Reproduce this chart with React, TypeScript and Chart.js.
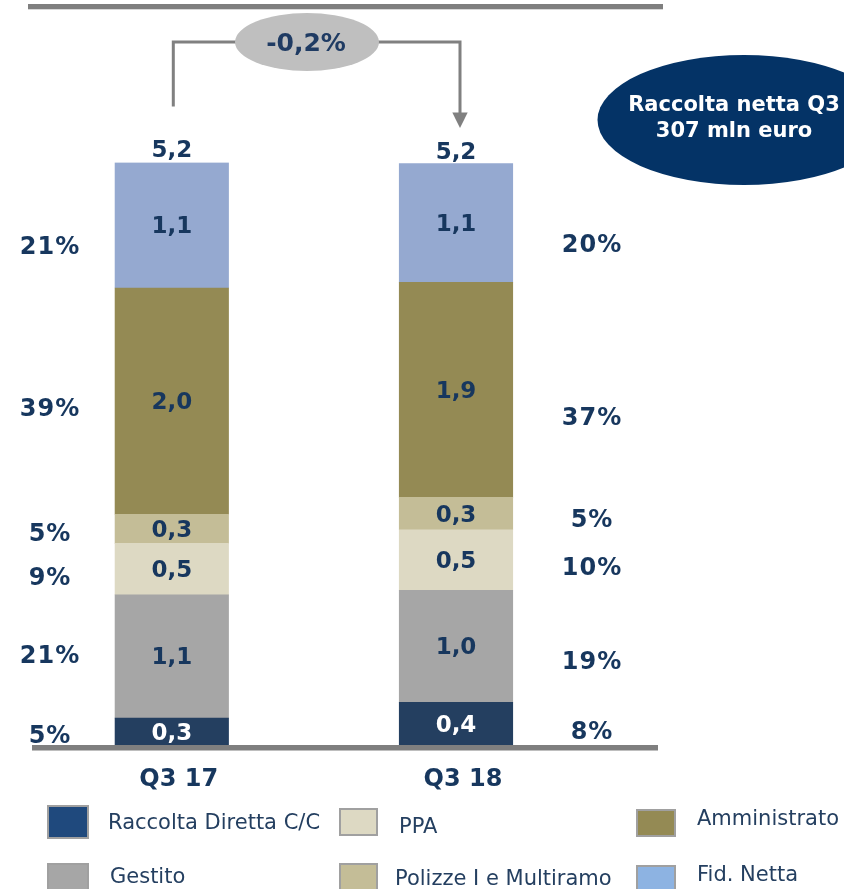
import React, { useEffect, useRef } from "react";
import { Chart, registerables } from "chart.js";

Chart.register(...registerables);

// ---------- data ----------
const categories = ["Q3 17", "Q3 18"];
const seriesNames = [
  "Raccolta Diretta C/C",
  "Gestito",
  "PPA",
  "Polizze I e Multiramo",
  "Amministrato",
  "Fid. Netta",
];
const raccoltaDiretta = [0.24, 0.38];
const gestito = [1.1, 1.0];
const ppa = [0.46, 0.54];
const polizze = [0.26, 0.29];
const amministrato = [2.02, 1.92];
const fidNetta = [1.12, 1.06];

// displayed values (series order as above)
const labelsQ317 = ["0,3", "1,1", "0,5", "0,3", "2,0", "1,1"];
const labelsQ318 = ["0,4", "1,0", "0,5", "0,3", "1,9", "1,1"];
const sharesQ317 = ["5%", "21%", "9%", "5%", "39%", "21%"];
const sharesQ318 = ["8%", "19%", "10%", "5%", "37%", "20%"];
const totals = ["5,2", "5,2"];
const changeLabel = "-0,2%";
const calloutLines = ["Raccolta netta Q3", "307 mln euro"];
const yMax = 5.2;

// ---------- styles ----------
const barColors = ["#243F60", "#A6A6A6", "#DDD9C3", "#C4BD97", "#948A54", "#95A9D0"];
const legendColors = ["#1F497D", "#A6A6A6", "#DDD9C3", "#C4BD97", "#948A54", "#8DB3E2"];
const NAVY = "#17375E";
const FONT = "'DejaVu Sans', Verdana, sans-serif";

const seriesData = [raccoltaDiretta, gestito, ppa, polizze, amministrato, fidNetta];

const overlayPlugin = {
  id: "overlay",
  afterDatasetsDraw(chart: any) {
    const ctx: any = chart.ctx;
    const metas = seriesData.map((_, i) => chart.getDatasetMeta(i));
    const barLabels = [labelsQ317, labelsQ318];
    const shares = [sharesQ317, sharesQ318];
    const leftOff = [5, 0, 10, 5.5, 9, 23];
    const rightOff = [9, 16, 9, 7, 29, 23];
    ctx.save();
    ctx.textAlign = "center";
    ctx.textBaseline = "middle";

    // segment labels + shares
    for (let c = 0; c < categories.length; c++) {
      for (let s = 0; s < seriesData.length; s++) {
        const el = metas[s].data[c];
        const cy = (el.y + el.base) / 2;
        ctx.letterSpacing = "0px";
        ctx.font = `bold 23px ${FONT}`;
        ctx.fillStyle = s === 0 ? "#FFFFFF" : NAVY;
        ctx.fillText(barLabels[c][s], el.x, cy + 2);
        ctx.font = `bold 24px ${FONT}`;
        ctx.letterSpacing = "1px";
        ctx.fillStyle = NAVY;
        if (c === 0) ctx.fillText(shares[c][s], 50, cy + leftOff[s]);
        else ctx.fillText(shares[c][s], 592, cy + rightOff[s]);
      }
      ctx.letterSpacing = "0px";
      const top = metas[seriesData.length - 1].data[c];
      ctx.font = `bold 23px ${FONT}`;
      ctx.fillStyle = NAVY;
      ctx.fillText(totals[c], top.x, top.y - 11);
      ctx.font = `bold 24px ${FONT}`;
      ctx.fillText(categories[c], top.x + 7, 780);
    }

    // baseline + top rule
    ctx.fillStyle = "#7F7F7F";
    ctx.fillRect(32, chart.chartArea.bottom, 626, 5.5);
    ctx.fillRect(28, 4, 635, 5.3);

    // bracket with arrow
    const x1 = metas[0].data[0].x + 1.5;
    const x2 = metas[0].data[1].x + 4;
    ctx.strokeStyle = "#808080";
    ctx.lineWidth = 3;
    ctx.beginPath();
    ctx.moveTo(x1, 106.5);
    ctx.lineTo(x1, 42);
    ctx.lineTo(x2, 42);
    ctx.lineTo(x2, 114);
    ctx.stroke();
    ctx.fillStyle = "#808080";
    ctx.beginPath();
    ctx.moveTo(x2 - 7.7, 112.5);
    ctx.lineTo(x2 + 7.7, 112.5);
    ctx.lineTo(x2, 128);
    ctx.closePath();
    ctx.fill();

    // change bubble
    ctx.fillStyle = "#BFBFBF";
    ctx.beginPath();
    ctx.ellipse(307, 42, 72, 29, 0, 0, Math.PI * 2);
    ctx.fill();
    ctx.fillStyle = "#1F3B63";
    ctx.font = `bold 25px ${FONT}`;
    ctx.fillText(changeLabel, 306, 44);

    // callout
    ctx.fillStyle = "#043366";
    ctx.beginPath();
    ctx.ellipse(744, 120, 146.5, 65, 0, 0, Math.PI * 2);
    ctx.fill();
    ctx.fillStyle = "#FFFFFF";
    ctx.font = `bold 21px ${FONT}`;
    ctx.fillText(calloutLines[0], 734, 106);
    ctx.fillText(calloutLines[1], 734, 132);

    // legend
    const legendPos = [
      { bx: 48, by: 806, bw: 40, bh: 32, tx: 108, ty: 824 },
      { bx: 48, by: 864, bw: 40, bh: 30, tx: 110, ty: 878 },
      { bx: 340, by: 809, bw: 37, bh: 26, tx: 399, ty: 828 },
      { bx: 340, by: 864, bw: 37, bh: 30, tx: 395, ty: 880 },
      { bx: 637, by: 810, bw: 38, bh: 26, tx: 697, ty: 820 },
      { bx: 637, by: 866, bw: 38, bh: 30, tx: 697, ty: 876 },
    ];
    ctx.textAlign = "left";
    ctx.font = `21px ${FONT}`;
    for (let s = 0; s < seriesNames.length; s++) {
      const p = legendPos[s];
      ctx.fillStyle = legendColors[s];
      ctx.fillRect(p.bx, p.by, p.bw, p.bh);
      ctx.strokeStyle = "#A0A0A0";
      ctx.lineWidth = 2;
      ctx.strokeRect(p.bx, p.by, p.bw, p.bh);
      ctx.fillStyle = "#243F60";
      ctx.fillText(seriesNames[s], p.tx, p.ty);
    }
    ctx.restore();
  },
};

export default function App() {
  const ref = useRef<HTMLCanvasElement | null>(null);
  useEffect(() => {
    if (!ref.current) return;
    const chart = new Chart(ref.current, {
      type: "bar",
      data: {
        labels: categories,
        datasets: seriesData.map((d, i) => ({
          label: seriesNames[i],
          data: d,
          backgroundColor: barColors[i],
          borderWidth: 0,
          barThickness: 113.5,
        })),
      },
      options: {
        animation: false,
        responsive: false,
        devicePixelRatio: 1,
        layout: { padding: { left: 29.7, right: 245.9, top: 162.5, bottom: 144 } },
        scales: {
          x: { stacked: true, display: false, offset: true },
          y: { stacked: true, display: false, min: 0, max: yMax },
        },
        plugins: {
          legend: { display: false },
          tooltip: { enabled: false },
        },
      },
      plugins: [overlayPlugin],
    });
    return () => chart.destroy();
  }, []);
  return (
    <div style={{ position: "absolute", left: 0, top: 0, width: 844, height: 889, background: "#fff" }}>
      <canvas ref={ref} width={844} height={889} style={{ width: 844, height: 889, display: "block" }} />
    </div>
  );
}
